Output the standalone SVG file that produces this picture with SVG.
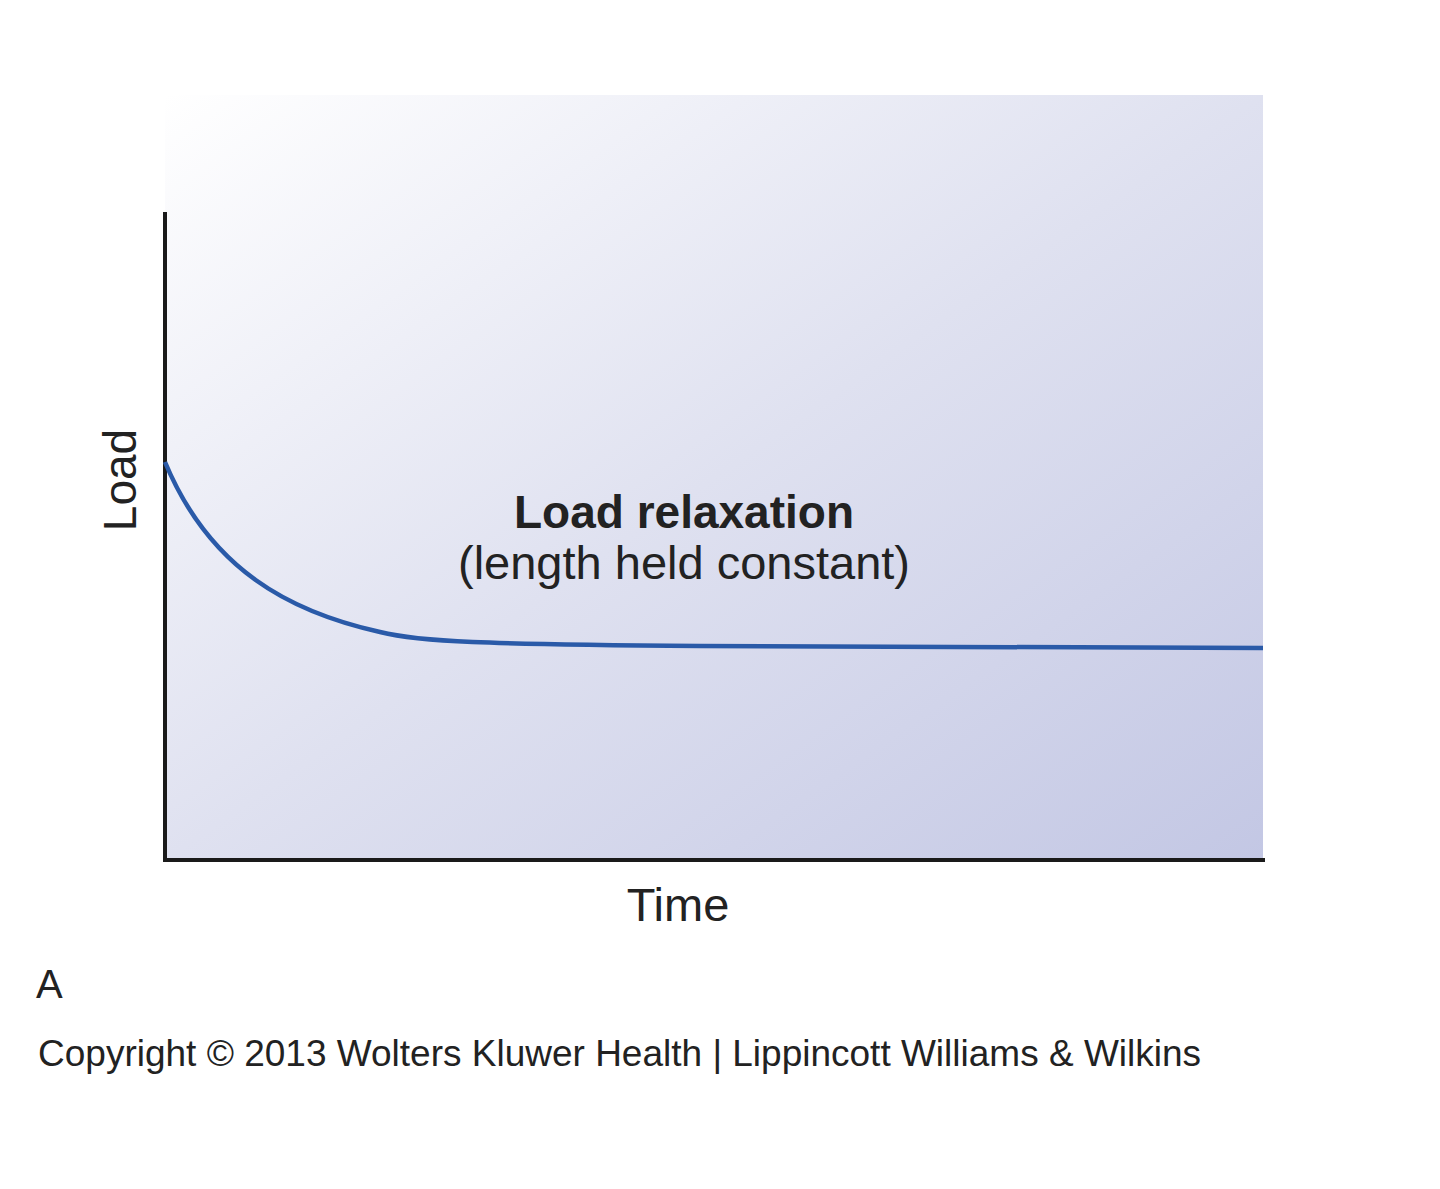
<svg xmlns="http://www.w3.org/2000/svg" width="1440" height="1189" viewBox="0 0 1440 1189">
<defs>
<linearGradient id="bg" x1="0" y1="0" x2="1" y2="1">
<stop offset="0" stop-color="#ffffff"/>
<stop offset="0.5" stop-color="#dfe1f0"/>
<stop offset="1" stop-color="#c3c7e4"/>
</linearGradient>
<style>
text{font-family:"Liberation Sans",Arial,sans-serif;fill:#222}
.ax{stroke:#1a1a1a;stroke-width:4;fill:none}
</style>
</defs>
<rect width="1440" height="1189" fill="#fff"/>
<rect x="165" y="95" width="1098" height="765" fill="url(#bg)"/>
<g id="axes">
<path class="ax" d="M165 212 V860 H1265"/>
</g>
<g id="connectors">
<path d="M165 462 C210 570 290 612 380 632 C420 642 480 644 700 646 L1263 648" fill="none" stroke="#2a5aa8" stroke-width="4.5"/>
</g>
<g id="labels">
<text x="0" y="0" font-size="46" text-anchor="middle" transform="translate(136 480) rotate(-90)">Load</text>
<text x="684" y="528" font-size="46" font-weight="bold" text-anchor="middle">Load relaxation</text>
<text x="684" y="579" font-size="47" text-anchor="middle">(length held constant)</text>
<text x="678" y="921" font-size="47" text-anchor="middle">Time</text>
<text x="36" y="998" font-size="40">A</text>
<text x="38" y="1066" font-size="37">Copyright © 2013 Wolters Kluwer Health | Lippincott Williams &amp; Wilkins</text>
</g>
</svg>
